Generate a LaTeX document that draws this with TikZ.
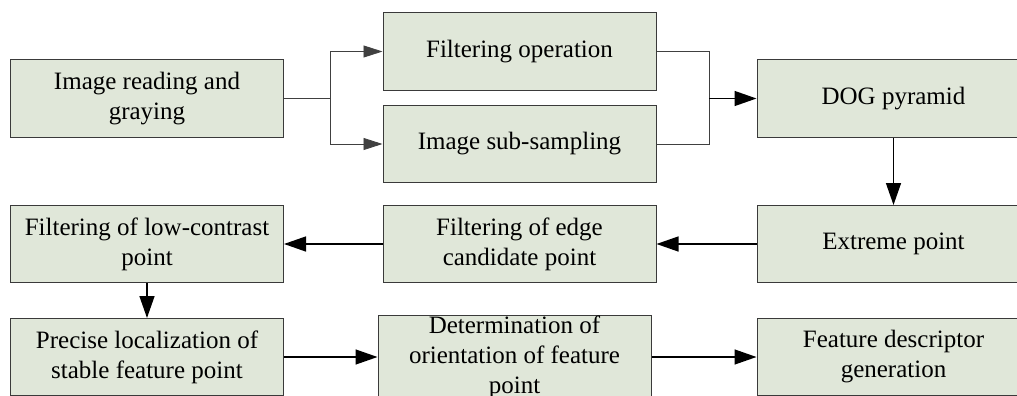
\documentclass[tikz,border=0pt]{standalone}
\usepackage{fontspec}
\setmainfont{Liberation Serif}
\newfontfamily\tnr{Liberation Serif}
\usetikzlibrary{arrows.meta}
\definecolor{boxfill}{HTML}{E0E7D9}
\definecolor{boxline}{HTML}{3A3A3A}
\begin{document}
\begin{tikzpicture}[x=1pt,y=-1pt,
  box/.style={draw=boxline,line width=1pt,fill=boxfill,minimum width=273pt,minimum height=77pt,inner sep=0pt,align=center,font=\tnr\fontsize{25}{30}\selectfont},
  thinline/.style={draw=black!75,line width=0.8pt},
  arr/.style={draw=black,line width=1.4pt,-{Triangle[length=22pt,width=15pt]}},
  tarr/.style={draw=black!75,line width=0.8pt,-{Triangle[length=19pt,width=12pt]}}]
\useasboundingbox (0,0) rectangle (1017,396);
\clip (0,0) rectangle (1017,396);
\node[box] (read) at (147,98.5) {Image reading and\\graying};
\node[box] (filt) at (519.5,51.5) {Filtering operation};
\node[box] (sub) at (519.5,144) {Image sub-sampling};
\node[box] (dog) at (893.5,98.5) {DOG pyramid};
\node[box] (ext) at (893.5,244) {Extreme point};
\node[box] (edge) at (519.5,244) {Filtering of edge\\candidate point};
\node[box] (low) at (147,244) {Filtering of low-contrast\\point};
\node[box] (prec) at (147,357) {Precise localization of\\stable feature point};
\node[box] (det) at (514.5,357) {Determination of\\orientation of feature\\point};
\node[box] (feat) at (893.5,357) {Feature descriptor\\generation};
\coordinate (split) at (330,98.5);
\coordinate (merge) at (709,98.5);
\draw[thinline] (read.east) -- (split);
\draw[tarr] (split) |- (filt.west);
\draw[tarr] (split) |- (sub.west);
\draw[thinline] (filt.east) -| (merge);
\draw[thinline] (sub.east) -| (merge);
\draw[arr] (merge) -- (dog.west);
\draw[arr] (dog.south) -- (ext.north);
\draw[arr] (ext.west) -- (edge.east);
\draw[arr] (edge.west) -- (low.east);
\draw[arr] (low.south) -- (prec.north);
\draw[arr] (prec.east) -- (det.west);
\draw[arr] (det.east) -- (feat.west);
\end{tikzpicture}
\end{document}
